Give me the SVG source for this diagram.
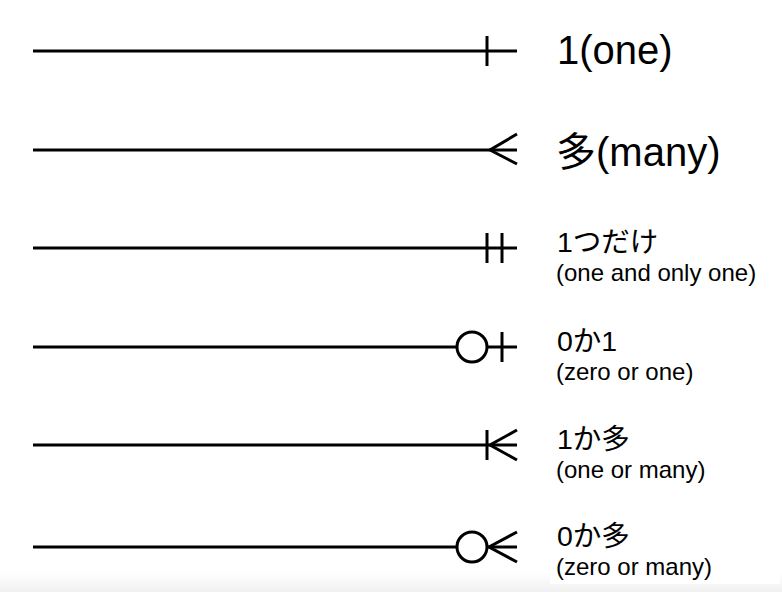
<svg xmlns="http://www.w3.org/2000/svg" width="782" height="592" viewBox="0 0 782 592">
<style>
.ln{stroke:#000;stroke-width:3;fill:none;stroke-linecap:butt}
.big{font-family:"Liberation Sans","Noto Sans CJK JP",sans-serif;font-size:40px;fill:#000}
.mid{font-family:"Liberation Sans","Noto Sans CJK JP",sans-serif;font-size:28.5px;fill:#000}
.sm{font-family:"Liberation Sans","Noto Sans CJK JP",sans-serif;font-size:24px;fill:#000}
</style>
<defs>
<linearGradient id="bg" x1="0" y1="0" x2="0" y2="1">
<stop offset="0" stop-color="#ffffff"/>
<stop offset="1" stop-color="#f1f1f1"/>
</linearGradient>
</defs>
<rect width="782" height="592" fill="#fff"/>
<rect x="0" y="572" width="782" height="20" fill="url(#bg)"/>
<rect x="550" y="500" width="230" height="84" fill="#fff"/>
<g id="connectors">
<g id="one">
<line class="ln" x1="33" y1="51" x2="517" y2="51"/>
<line class="ln" x1="487" y1="36" x2="487" y2="66"/>
</g>
<g id="many">
<line class="ln" x1="33" y1="150" x2="517" y2="150"/>
<polyline class="ln" points="517,134 490,150 517,164"/>
</g>
<g id="one-and-only-one">
<line class="ln" x1="33" y1="248" x2="517" y2="248"/>
<line class="ln" x1="487" y1="233" x2="487" y2="263"/>
<line class="ln" x1="502" y1="233" x2="502" y2="263"/>
</g>
<g id="zero-or-one">
<line class="ln" x1="33" y1="347" x2="457" y2="347"/>
<circle class="ln" cx="472" cy="347" r="15"/>
<line class="ln" x1="487" y1="347" x2="517" y2="347"/>
<line class="ln" x1="502" y1="332" x2="502" y2="362"/>
</g>
<g id="one-or-many">
<line class="ln" x1="33" y1="445" x2="517" y2="445"/>
<line class="ln" x1="487" y1="430" x2="487" y2="460"/>
<polyline class="ln" points="517,430 490,445 517,460"/>
</g>
<g id="zero-or-many">
<line class="ln" x1="33" y1="547" x2="457" y2="547"/>
<circle class="ln" cx="472" cy="547" r="15"/>
<line class="ln" x1="487" y1="547" x2="517" y2="547"/>
<polyline class="ln" points="517,532 489,547 517,562"/>
</g>
</g>
<g id="label-one"><text class="big" x="557" y="64">1(one)</text></g>
<g id="label-many"><text class="big" x="556" y="166">多(many)</text></g>
<g id="label-one-and-only-one">
<text class="mid" x="557" y="252">1つだけ</text>
<text class="sm" x="556" y="281">(one and only one)</text>
</g>
<g id="label-zero-or-one">
<text class="mid" x="557" y="351">0か1</text>
<text class="sm" x="556" y="380">(zero or one)</text>
</g>
<g id="label-one-or-many">
<text class="mid" x="557" y="449">1か多</text>
<text class="sm" x="556" y="478">(one or many)</text>
</g>
<g id="label-zero-or-many">
<text class="mid" x="557" y="546">0か多</text>
<text class="sm" x="556" y="575">(zero or many)</text>
</g>
</svg>
